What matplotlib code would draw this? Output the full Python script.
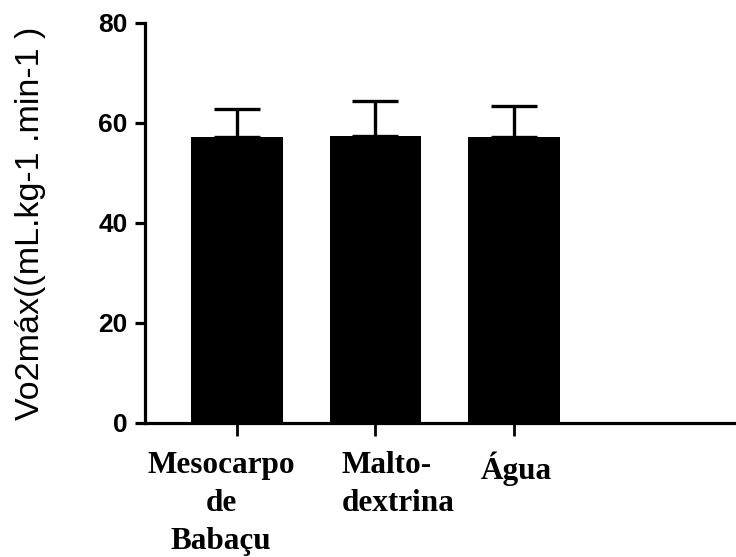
import matplotlib
matplotlib.use("Agg")
import matplotlib.pyplot as plt
import numpy as np

categories = ["Mesocarpo\nde\nBabaçu", "Malto-\ndextrina", "Água"]
means = [57.2, 57.5, 57.2]
sd_upper = [5.7, 6.9, 6.2]
yticks = [0, 20, 40, 60, 80]
ylabel = "Vo2máx((mL.kg-1 .min-1 )"

fig = plt.figure(figsize=(7.36, 5.57), dpi=100)
ax = fig.add_axes([145/736, 134/557, 591/736, 400/557])

x = np.arange(len(categories))
ax.bar(x, means, width=0.66, color="black", edgecolor="black", linewidth=0, zorder=2)
ax.errorbar(x, means, yerr=[np.zeros(len(means)), sd_upper], fmt="none",
            ecolor="black", elinewidth=2.4, capsize=16.5, capthick=2.4, zorder=1)

ax.set_xlim(-0.664, 3.603)
ax.set_ylim(0, 80)
ax.set_yticks(yticks)
ax.set_yticklabels([str(t) for t in yticks], fontfamily="Liberation Sans",
                   fontweight="bold", fontsize=19)
ax.set_xticks(x)
ax.set_xticklabels([])

for s in ["top", "right"]:
    ax.spines[s].set_visible(False)
for s in ["left", "bottom"]:
    ax.spines[s].set_linewidth(2.3)
ax.tick_params(axis="y", length=7.5, width=2.3, pad=5)
ax.tick_params(axis="x", length=9, width=2.0)

ax.set_ylabel(ylabel, fontfamily="Liberation Sans", fontsize=24.5)
ax.yaxis.set_label_coords(-0.1675, 0.5)

# category labels
trans = ax.get_xaxis_transform()
label_x = [-0.115, 0.758, 2.02]
label_ha = ["center", "left", "center"]
for lx, ha, txt in zip(label_x, label_ha, categories):
    ax.text(lx, -0.07, txt, transform=trans, ha=ha, va="top",
            multialignment=ha, fontfamily="Liberation Serif",
            fontweight="bold", fontsize=22.5, linespacing=1.42)

fig.savefig("out.png", dpi=100)
